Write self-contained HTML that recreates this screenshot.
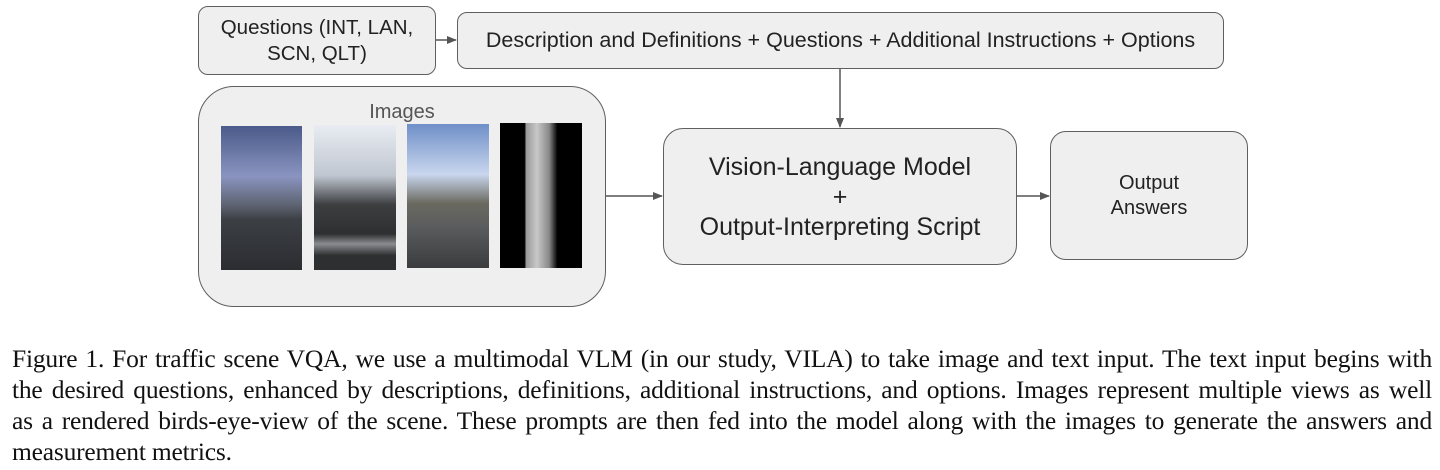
<!DOCTYPE html>
<html><head><style>
body{margin:0;width:1440px;height:470px;background:#fff;position:relative;overflow:hidden;font-family:"Liberation Sans",sans-serif}
.b{position:absolute;box-sizing:border-box;border:1.5px solid #5f5f5f;background:#efefef;display:flex;align-items:center;justify-content:center;text-align:center;color:#222}
.img{position:absolute}
.l{position:absolute;left:12px;width:1420px;font-family:"Liberation Serif",serif;font-size:25.5px;line-height:31px;color:#111;text-align:justify;text-align-last:justify;white-space:nowrap;letter-spacing:-0.2px}
.l.e{text-align-last:left}
</style></head><body>
<div class="b" style="left:198px;top:6px;width:238px;height:69px;border-radius:10px;font-size:20.5px;line-height:26px">Questions (INT, LAN,<br>SCN, QLT)</div>
<div class="b" style="left:457px;top:12px;width:767px;height:57px;border-radius:10px;font-size:21.5px">Description and Definitions + Questions + Additional Instructions + Options</div>
<div class="b" style="left:198px;top:86px;width:408px;height:221px;border-radius:36px;align-items:flex-start;padding-top:14px;font-size:20px;color:#555">Images</div>
<div class="img" style="left:221px;top:126px;width:81px;height:144px;background:linear-gradient(#4a5a8a 0%,#8a94c0 35%,#5d6370 55%,#3c3f44 65%,#2b2d31 100%)"></div>
<div class="img" style="left:314px;top:125px;width:82px;height:145px;background:linear-gradient(#e8ecf2 0%,#c0c6d0 35%,#3c3e40 55%,#2e2f31 75%,#8a8c8f 82%,#2e2f31 90%)"></div>
<div class="img" style="left:407px;top:124px;width:82px;height:144px;background:linear-gradient(#6f8fc8 0%,#c9d6ee 35%,#6a6a60 55%,#5c5d5e 70%,#3b3c3e 100%)"></div>
<div class="img" style="left:500px;top:123px;width:82px;height:145px;background:linear-gradient(90deg,#000 0%,#000 30%,#9a9a9a 32%,#c8c8c8 45%,#888 60%,#000 70%,#000 100%)"></div>
<div class="b" style="left:663px;top:128px;width:354px;height:137px;border-radius:20px;font-size:25px;line-height:30px">Vision-Language Model<br>+<br>Output-Interpreting Script</div>
<div class="b" style="left:1050px;top:131px;width:198px;height:129px;border-radius:16px;font-size:20px;line-height:25px">Output<br>Answers</div>
<svg width="1440" height="470" style="position:absolute;left:0;top:0">
<defs><marker id="a" markerWidth="10" markerHeight="8" refX="9" refY="4" orient="auto" markerUnits="userSpaceOnUse"><path d="M0,0L10,4L0,8z" fill="#555"/></marker></defs>
<g stroke="#555" stroke-width="1.5" fill="none">
<line x1="436" y1="40" x2="456" y2="40" marker-end="url(#a)"/>
<line x1="840" y1="69" x2="840" y2="127" marker-end="url(#a)"/>
<line x1="606" y1="196" x2="662" y2="196" marker-end="url(#a)"/>
<line x1="1017" y1="196" x2="1049" y2="196" marker-end="url(#a)"/>
</g></svg>
<div class="l" style="top:343px">Figure 1. For traffic scene VQA, we use a multimodal VLM (in our study, VILA) to take image and text input. The text input begins with</div>
<div class="l" style="top:374px">the desired questions, enhanced by descriptions, definitions, additional instructions, and options. Images represent multiple views as well</div>
<div class="l" style="top:405px">as a rendered birds-eye-view of the scene. These prompts are then fed into the model along with the images to generate the answers and</div>
<div class="l e" style="top:436px">measurement metrics.</div>
</body></html>
